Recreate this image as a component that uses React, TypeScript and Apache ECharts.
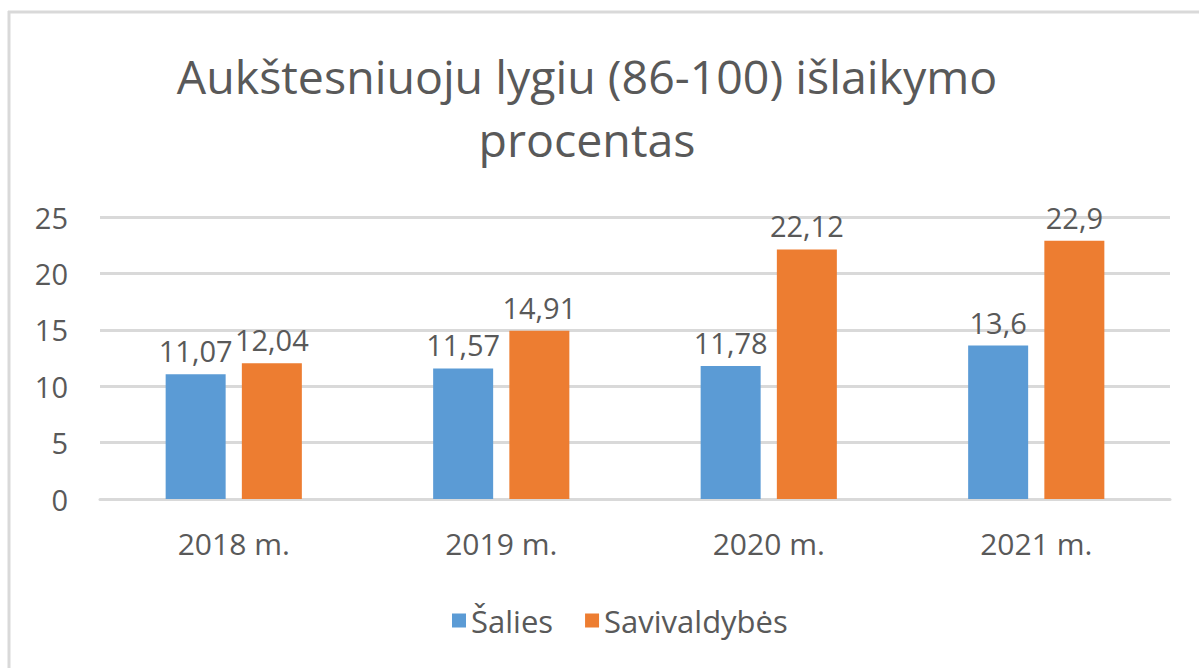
import React, { useEffect, useRef } from "react";
import * as echarts from "echarts";

const categories = ["2018 m.", "2019 m.", "2020 m.", "2021 m."];
const salies = [11.07, 11.57, 11.78, 13.6];
const savivaldybes = [12.04, 14.91, 22.12, 22.9];
const seriesNames = ["Šalies", "Savivaldybės"];
const titleLines = ["Aukštesniuoju lygiu (86-100) išlaikymo", "procentas"];

const FONT = "'Open Sans', 'Noto Sans', sans-serif";
const TEXT = "#595959";

export default function App() {
  const ref = useRef<HTMLDivElement>(null);
  useEffect(() => {
    if (!ref.current) return;
    const chart = echarts.init(ref.current, undefined, { renderer: "svg" });
    const label = {
      show: true,
      position: "top" as const,
      distance: 9,
      color: TEXT,
      fontSize: 29,
      fontFamily: FONT,
      formatter: (p: any) => String(p.value).replace(".", ","),
    };
    chart.setOption({
      animation: false,
      backgroundColor: "#ffffff",
      textStyle: { fontFamily: FONT },
      graphic: [
        { type: "line", shape: { x1: 9, y1: 11, x2: 9, y2: 668 }, style: { stroke: "#d9d9d9", lineWidth: 3 } },
        { type: "line", shape: { x1: 8, y1: 12, x2: 1199, y2: 12 }, style: { stroke: "#d9d9d9", lineWidth: 3 } },
        {
          type: "text",
          x: 587,
          y: 44,
          style: {
            text: titleLines.join("\n"),
            fill: TEXT,
            fontSize: 46.5,
            lineHeight: 63,
            fontFamily: FONT,
            textAlign: "center",
          },
        },
      ],
      legend: {
        data: seriesNames,
        left: 447,
        top: 600,
        itemWidth: 14,
        itemHeight: 14,
        itemGap: 32,
        icon: "rect",
        textStyle: { color: TEXT, fontSize: 31, fontFamily: FONT },
      },
      grid: { left: 100, right: 29, top: 217, bottom: 169, containLabel: false },
      xAxis: {
        type: "category",
        data: categories,
        axisLine: { lineStyle: { color: "#d9d9d9", width: 3 } },
        axisTick: { show: false },
        axisLabel: { color: TEXT, fontSize: 30, fontFamily: FONT, margin: 29 },
      },
      yAxis: {
        type: "value",
        min: 0,
        max: 25,
        interval: 5,
        axisLine: { show: false },
        axisTick: { show: false },
        splitLine: { lineStyle: { color: "#d9d9d9", width: 3 } },
        axisLabel: { color: TEXT, fontSize: 29, fontFamily: FONT, margin: 32 },
      },
      series: [
        {
          name: seriesNames[0],
          type: "bar",
          data: salies,
          barWidth: 60,
          barGap: "27%",
          itemStyle: { color: "#5b9bd5" },
          label,
        },
        {
          name: seriesNames[1],
          type: "bar",
          data: savivaldybes,
          barWidth: 60,
          itemStyle: { color: "#ed7d31" },
          label,
        },
      ],
    });
    return () => chart.dispose();
  }, []);
  return <div ref={ref} style={{ position: "absolute", left: 0, top: 0, width: 1199, height: 668 }} />;
}
